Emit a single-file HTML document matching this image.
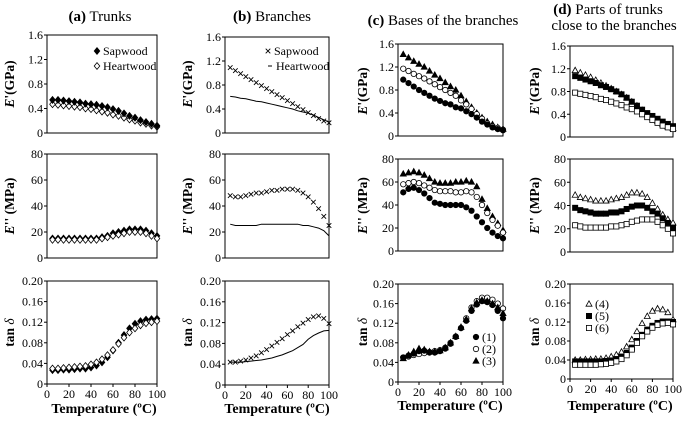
<!DOCTYPE html>
<html><head><meta charset="utf-8"><style>
body{margin:0;background:#fff}
svg{display:block}
svg text{font-family:"Liberation Serif","Times New Roman",serif}
</style></head><body>
<svg id="chart" width="685" height="421" viewBox="0 0 685 421" xmlns="http://www.w3.org/2000/svg" font-family="Liberation Serif, serif"></svg>
<script>
const temps=[5,10,15,20,25,30,35,40,45,50,55,60,65,70,75,80,85,90,95,100];
const ticksE1=[0,0.4,0.8,1.2,1.6], ticksE1Lbl=["0","0.4","0.8","1.2","1.6"];
const ticksE2=[0,20,40,60,80], ticksE2Lbl=["0","20","40","60","80"];
const ticksTan=[0,0.04,0.08,0.12,0.16,0.20], ticksTanLbl=["0","0.04","0.08","0.12","0.16","0.20"];
const ticksT=[0,20,40,60,80,100];
// (a) Trunks
const aSapE1=[0.54,0.54,0.53,0.52,0.51,0.50,0.48,0.47,0.46,0.44,0.42,0.39,0.36,0.32,0.28,0.25,0.21,0.18,0.15,0.12];
const aHeartE1=[0.47,0.46,0.45,0.44,0.43,0.42,0.40,0.39,0.37,0.35,0.33,0.30,0.28,0.25,0.22,0.20,0.17,0.15,0.12,0.10];
const aSapE2=[15,15,15,15,15,15,15,15,15,16,17,19,20,21,22,22,22,21,19,17];
const aHeartE2=[14,14,14,14,14,14,14,14,14,15,16,17,18,19,20,20,20,19,17,15];
const aSapTan=[0.027,0.027,0.028,0.028,0.029,0.030,0.030,0.032,0.036,0.042,0.052,0.065,0.080,0.095,0.108,0.117,0.122,0.125,0.126,0.127];
const aHeartTan=[0.030,0.030,0.031,0.032,0.033,0.034,0.035,0.038,0.042,0.048,0.056,0.066,0.078,0.090,0.100,0.108,0.114,0.118,0.120,0.122];
// (b) Branches
const bSapE1=[1.09,1.04,0.99,0.94,0.89,0.84,0.79,0.74,0.69,0.64,0.59,0.54,0.49,0.44,0.39,0.34,0.29,0.24,0.20,0.17];
const bHeartE1=[0.61,0.60,0.58,0.57,0.55,0.53,0.52,0.50,0.48,0.46,0.44,0.42,0.40,0.37,0.35,0.33,0.30,0.26,0.22,0.18];
const bSapE2=[48,47,47,48,49,50,50,51,52,52,53,53,53,52,50,47,43,38,32,25];
const bHeartE2=[26,25,25,25,25,25,26,26,26,26,26,26,26,26,25,25,24,23,21,17];
const bSapTan=[0.044,0.044,0.046,0.048,0.052,0.056,0.062,0.068,0.075,0.082,0.089,0.097,0.104,0.112,0.119,0.126,0.131,0.133,0.128,0.118];
const bHeartTan=[0.044,0.044,0.044,0.045,0.046,0.047,0.048,0.050,0.052,0.055,0.058,0.062,0.066,0.072,0.078,0.088,0.095,0.100,0.104,0.105];
// (c) Bases of the branches
const c1E1=[0.98,0.92,0.86,0.80,0.75,0.70,0.65,0.61,0.57,0.55,0.50,0.48,0.43,0.38,0.32,0.25,0.20,0.15,0.12,0.10];
const c2E1=[1.17,1.13,1.08,1.04,1.00,0.95,0.90,0.85,0.80,0.75,0.70,0.62,0.55,0.47,0.38,0.30,0.22,0.17,0.14,0.11];
const c3E1=[1.42,1.36,1.30,1.25,1.20,1.13,1.06,1.00,0.93,0.86,0.80,0.70,0.60,0.50,0.40,0.32,0.25,0.20,0.15,0.12];
const c1E2=[51,54,55,53,50,46,42,41,40,40,40,40,38,35,30,25,20,16,13,11];
const c2E2=[58,59,60,59,57,55,53,52,52,52,51,51,52,51,47,40,33,27,22,16];
const c3E2=[67,68,69,68,66,63,60,59,59,59,60,60,61,60,56,45,37,30,24,18];
const c1Tan=[0.050,0.054,0.058,0.063,0.064,0.060,0.060,0.063,0.068,0.078,0.092,0.110,0.125,0.145,0.158,0.165,0.163,0.157,0.145,0.130];
const c2Tan=[0.050,0.052,0.055,0.057,0.059,0.061,0.063,0.065,0.070,0.080,0.093,0.110,0.130,0.152,0.165,0.172,0.172,0.168,0.160,0.150];
const c3Tan=[0.048,0.055,0.062,0.068,0.066,0.062,0.062,0.064,0.070,0.080,0.093,0.112,0.128,0.150,0.162,0.167,0.165,0.160,0.152,0.140];
// (d) Parts of trunks close to the branches
const d4E1=[1.17,1.13,1.09,1.05,1.00,0.95,0.90,0.85,0.80,0.75,0.69,0.62,0.55,0.47,0.40,0.34,0.28,0.22,0.18,0.15];
const d5E1=[1.07,1.04,1.01,0.98,0.95,0.91,0.88,0.84,0.80,0.75,0.69,0.62,0.55,0.48,0.42,0.37,0.32,0.27,0.23,0.19];
const d6E1=[0.78,0.76,0.74,0.72,0.70,0.67,0.65,0.62,0.59,0.56,0.52,0.49,0.45,0.40,0.35,0.30,0.25,0.20,0.17,0.14];
const d4E2=[49,47,46,45,44,44,44,45,46,47,49,51,51,50,47,42,37,32,28,25];
const d5E2=[38,36,35,34,33,33,33,34,34,35,37,39,40,40,38,35,33,29,25,21];
const d6E2=[23,22,21,21,21,21,21,22,22,23,24,26,27,28,28,28,26,23,20,16];
const d4Tan=[0.040,0.040,0.041,0.041,0.042,0.042,0.044,0.047,0.051,0.057,0.068,0.083,0.100,0.117,0.132,0.143,0.148,0.146,0.140,0.125];
const d5Tan=[0.037,0.037,0.037,0.037,0.037,0.037,0.038,0.039,0.042,0.047,0.055,0.066,0.080,0.093,0.104,0.112,0.118,0.121,0.121,0.120];
const d6Tan=[0.030,0.030,0.030,0.030,0.030,0.031,0.032,0.034,0.037,0.042,0.050,0.062,0.076,0.090,0.100,0.108,0.114,0.117,0.118,0.115];

const NS="http://www.w3.org/2000/svg";
const svg=document.getElementById('chart');
function mk(tag,attrs,parent){const e=document.createElementNS(NS,tag);for(const k in attrs)e.setAttribute(k,attrs[k]);(parent||svg).appendChild(e);return e;}
function txt(x,y,s,size,anchor,weight,parent){const t=mk('text',{x:x,y:y,'font-size':size,'text-anchor':anchor||'middle','font-weight':weight||'normal',fill:'#000','font-family':'Liberation Serif, serif'},parent);t.textContent=s;return t;}

function marker(g,kind,x,y){
  const s=2.8;
  if(kind==='diamondF'||kind==='diamondO') mk('polygon',{points:`${x},${y-s-0.6} ${x+s},${y} ${x},${y+s+0.6} ${x-s},${y}`,fill:kind==='diamondF'?'#000':'#fff',stroke:'#000','stroke-width':0.8},g);
  else if(kind==='cross'){mk('path',{d:`M${x-2.3},${y-2.3}L${x+2.3},${y+2.3}M${x-2.3},${y+2.3}L${x+2.3},${y-2.3}`,stroke:'#000','stroke-width':0.9},g);}
  else if(kind==='circleF'||kind==='circleO') mk('circle',{cx:x,cy:y,r:2.7,fill:kind==='circleF'?'#000':'#fff',stroke:'#000','stroke-width':0.8},g);
  else if(kind==='triF'||kind==='triO') mk('polygon',{points:`${x},${y-3.2} ${x+3},${y+2.2} ${x-3},${y+2.2}`,fill:kind==='triF'?'#000':'#fff',stroke:'#000','stroke-width':0.8},g);
  else if(kind==='sqF'||kind==='sqO') mk('rect',{x:x-2.6,y:y-2.6,width:5.2,height:5.2,fill:kind==='sqF'?'#000':'#fff',stroke:'#000','stroke-width':0.8},g);
}

function panel(name,box,yMax,ticks,lbls,series,showX){
  const g=mk('g',{});
  
  
  const [x0,x1,y0,y1]=box;
  const sx=v=>x0+(v/100)*(x1-x0);
  const sy=v=>y1-(v/yMax)*(y1-y0);
  mk('rect',{x:x0,y:y0,width:x1-x0,height:y1-y0,fill:'none',stroke:'#000','stroke-width':1},g);
  ticks.forEach((t,i)=>{
    mk('line',{x1:x0-3,x2:x0,y1:sy(t),y2:sy(t),stroke:'#000','stroke-width':1},g);
    const l=txt(x0-4,sy(t)+4,lbls[i],12,'end','normal',g);
    
    
  });
  if(showX){
    ticksT.forEach(t=>{
      mk('line',{x1:sx(t),x2:sx(t),y1:y1,y2:y1+3,stroke:'#000','stroke-width':1},g);
      const l=txt(sx(t),y1+14,String(t),12,'middle','normal',g);
      
      
    });
  }
  series.forEach(s=>{
    const sg=mk('g',{},g);
    
    
    if(s.kind==='line'){
      mk('polyline',{points:s.vals.map((v,i)=>sx(temps[i])+','+sy(v)).join(' '),fill:'none',stroke:'#000','stroke-width':1},sg);
    } else {
      s.vals.forEach((v,i)=>marker(sg,s.kind,sx(temps[i]),sy(v)));
    }
  });
}

const A=[47,157], B=[225,329], C=[398,503], D=[570,673];
panel('panel-a-storage',[A[0],A[1],35,133],1.6,ticksE1,ticksE1Lbl,[{name:'a-heartwood-e1',kind:'diamondO',vals:aHeartE1},{name:'a-sapwood-e1',kind:'diamondF',vals:aSapE1}],false);
panel('panel-a-loss',[A[0],A[1],154,258],80,ticksE2,ticksE2Lbl,[{name:'a-sapwood-e2',kind:'diamondF',vals:aSapE2},{name:'a-heartwood-e2',kind:'diamondO',vals:aHeartE2}],false);
panel('panel-a-tan',[A[0],A[1],281,384],0.2,ticksTan,ticksTanLbl,[{name:'a-sapwood-tan',kind:'diamondF',vals:aSapTan},{name:'a-heartwood-tan',kind:'diamondO',vals:aHeartTan}],true);
panel('panel-b-storage',[B[0],B[1],37,133],1.6,ticksE1,ticksE1Lbl,[{name:'b-sapwood-e1',kind:'cross',vals:bSapE1},{name:'b-heartwood-e1',kind:'line',vals:bHeartE1}],false);
panel('panel-b-loss',[B[0],B[1],154,258],80,ticksE2,ticksE2Lbl,[{name:'b-sapwood-e2',kind:'cross',vals:bSapE2},{name:'b-heartwood-e2',kind:'line',vals:bHeartE2}],false);
panel('panel-b-tan',[B[0],B[1],281,385],0.2,ticksTan,ticksTanLbl,[{name:'b-sapwood-tan',kind:'cross',vals:bSapTan},{name:'b-heartwood-tan',kind:'line',vals:bHeartTan}],true);
panel('panel-c-storage',[C[0],C[1],44,136],1.6,ticksE1,ticksE1Lbl,[{name:'c-3-e1',kind:'triF',vals:c3E1},{name:'c-2-e1',kind:'circleO',vals:c2E1},{name:'c-1-e1',kind:'circleF',vals:c1E1}],false);
panel('panel-c-loss',[C[0],C[1],159,251],80,ticksE2,ticksE2Lbl,[{name:'c-3-e2',kind:'triF',vals:c3E2},{name:'c-2-e2',kind:'circleO',vals:c2E2},{name:'c-1-e2',kind:'circleF',vals:c1E2}],false);
panel('panel-c-tan',[C[0],C[1],284,382],0.2,ticksTan,ticksTanLbl,[{name:'c-2-tan',kind:'circleO',vals:c2Tan},{name:'c-3-tan',kind:'triF',vals:c3Tan},{name:'c-1-tan',kind:'circleF',vals:c1Tan}],true);
panel('panel-d-storage',[D[0],D[1],46,137],1.6,ticksE1,ticksE1Lbl,[{name:'d-4-e1',kind:'triO',vals:d4E1},{name:'d-5-e1',kind:'sqF',vals:d5E1},{name:'d-6-e1',kind:'sqO',vals:d6E1}],false);
panel('panel-d-loss',[D[0],D[1],159,252],80,ticksE2,ticksE2Lbl,[{name:'d-4-e2',kind:'triO',vals:d4E2},{name:'d-5-e2',kind:'sqF',vals:d5E2},{name:'d-6-e2',kind:'sqO',vals:d6E2}],false);
panel('panel-d-tan',[D[0],D[1],284,379],0.2,ticksTan,ticksTanLbl,[{name:'d-4-tan',kind:'triO',vals:d4Tan},{name:'d-5-tan',kind:'sqF',vals:d5Tan},{name:'d-6-tan',kind:'sqO',vals:d6Tan}],true);

function title(x,y,bold,rest,name){
  const t=mk('text',{x:x,y:y,'font-size':15,'text-anchor':'middle','font-family':'Liberation Serif, serif'});
  
  
  const b=mk('tspan',{'font-weight':'bold'},t);b.textContent=bold;
  const r=mk('tspan',{},t);r.textContent=rest;
}
title(100,21,'(a)',' Trunks','panel-a-title');
title(272,21,'(b)',' Branches','panel-b-title');
title(443,25,'(c)',' Bases of the branches','panel-c-title');
title(608,14,'(d)',' Parts of trunks','panel-d-title');
const d2=txt(614,30,'close to the branches',15,'middle');



function ytitle(x,y,kind){
  const t=mk('text',{x:0,y:0,'font-size':13.5,'font-weight':'bold','text-anchor':'middle','font-family':'Liberation Serif, serif',transform:`translate(${x},${y}) rotate(-90)`});
  
  
  if(kind==='tan'){const a=mk('tspan',{},t);a.textContent='tan ';const b=mk('tspan',{'font-style':'italic','font-weight':'normal'},t);b.textContent='δ';}
  else {const a=mk('tspan',{'font-style':'italic'},t);a.textContent='E';const b=mk('tspan',{},t);b.textContent=kind==='e1'?"'(GPa)":"'' (MPa)";}
}
[[14,0],[192,0],[367,1],[539,1]].forEach(([x,k])=>{
  const r=k===0?[[35,133],[154,258],[281,384]]:[[45,137],[159,252],[284,380]];
  ytitle(x,(r[0][0]+r[0][1])/2,'e1');
  ytitle(x,(r[1][0]+r[1][1])/2,'e2');
  ytitle(x,(r[2][0]+r[2][1])/2,'tan');
});
[[104,413],[277,413],[450,410],[620,410]].forEach(([x,y])=>{
  const t=mk('text',{x:x,y:y,'font-size':14,'font-weight':'bold','text-anchor':'middle','font-family':'Liberation Serif, serif'});
  
  
  t.textContent='Temperature (ºC)';
});

function legend(x,y,kind,label){
  const g=mk('g',{});
  
  
  if(kind==='dash') mk('line',{x1:x-2,x2:x+2,y1:y,y2:y,stroke:'#000','stroke-width':1},g);
  else marker(g,kind,x,y);
  txt(x+6,y+4,label,12,'start','normal',g);
}
legend(97,51,'diamondF','Sapwood');
legend(97,66,'diamondO','Heartwood');
legend(268,51,'cross','Sapwood');
legend(270,66,'dash',' Heartwood');
legend(476,337,'circleF','(1)');
legend(476,349,'circleO','(2)');
legend(476,361,'triF','(3)');
legend(589,304,'triO','(4)');
legend(589,316,'sqF','(5)');
legend(589,328,'sqO','(6)');
</script>
</body></html>
